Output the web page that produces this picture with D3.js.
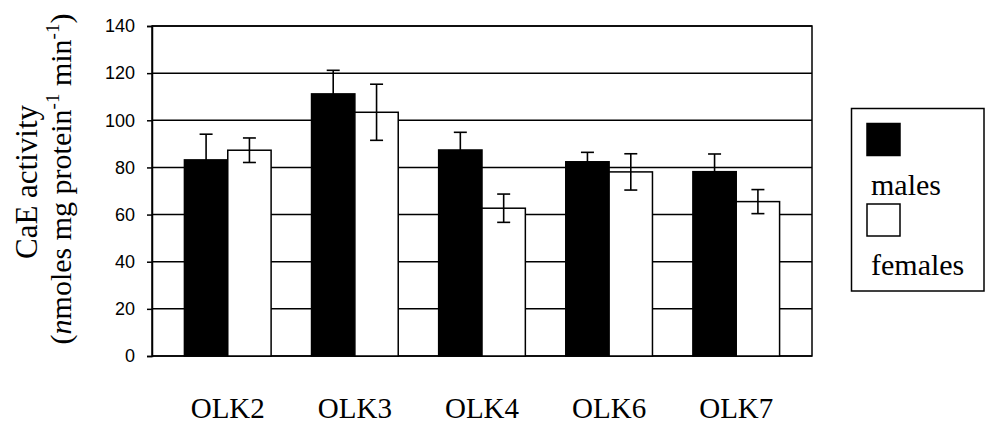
<!DOCTYPE html>
<html><head><meta charset="utf-8">
<script src="https://cdn.jsdelivr.net/npm/d3@7"></script>
<style>body{margin:0;background:#fff}</style>
</head><body>
<script>
const categories = ["OLK2","OLK3","OLK4","OLK6","OLK7"];
const series = ["males","females"];
const malesValues = [83.2, 111.2, 87.4, 82.4, 78.2];
const malesErrors = [10.9, 10.0, 7.5, 4.0, 7.5];
const femalesValues = [87.3, 103.4, 62.7, 78.1, 65.5];
const femalesErrors = [5.2, 11.9, 6.0, 7.7, 5.1];
const yTicks = [0,20,40,60,80,100,120,140];

const W = 985, H = 424;
const svg = d3.select("body").append("svg").attr("width", W).attr("height", H);
const L = 152, R = 812, T = 26, B = 356;
const serif = "Liberation Serif, Times New Roman, serif";

const x0 = d3.scaleBand().domain(categories).range([L, R]).paddingInner(0.318).paddingOuter(0.255);
const x1 = d3.scaleBand().domain(series).range([0, x0.bandwidth()]);
const y = d3.scaleLinear().domain([0, 140]).range([B, T]);

// gridlines
svg.append("g").selectAll("line").data(yTicks).join("line")
  .attr("x1", L).attr("x2", R).attr("y1", d => y(d)).attr("y2", d => y(d))
  .attr("stroke", "#000").attr("stroke-width", 1.5);

// plot border
svg.append("rect").attr("x", L).attr("y", T).attr("width", R - L).attr("height", B - T)
  .attr("fill", "none").attr("stroke", "#000").attr("stroke-width", 1.5);

const data = [];
categories.forEach((c, i) => {
  data.push({c, s: "males", v: malesValues[i], e: malesErrors[i]});
  data.push({c, s: "females", v: femalesValues[i], e: femalesErrors[i]});
});

svg.append("g").selectAll("rect").data(data).join("rect")
  .attr("x", d => x0(d.c) + x1(d.s))
  .attr("y", d => y(d.v))
  .attr("width", x1.bandwidth())
  .attr("height", d => y(0) - y(d.v))
  .attr("fill", d => d.s === "males" ? "#000" : "#fff")
  .attr("stroke", "#000").attr("stroke-width", 1.5);

const eb = svg.append("g").attr("stroke", "#000").attr("stroke-width", 1.6);
data.forEach(d => {
  const cx = x0(d.c) + x1(d.s) + x1.bandwidth() / 2;
  eb.append("line").attr("x1", cx).attr("x2", cx).attr("y1", y(d.v + d.e)).attr("y2", y(d.v - d.e));
  eb.append("line").attr("x1", cx - 6.5).attr("x2", cx + 6.5).attr("y1", y(d.v + d.e)).attr("y2", y(d.v + d.e));
  eb.append("line").attr("x1", cx - 6.5).attr("x2", cx + 6.5).attr("y1", y(d.v - d.e)).attr("y2", y(d.v - d.e));
});

// y axis
const yAxis = d3.axisLeft(y).tickValues(yTicks).tickSize(5).tickPadding(12);
const ga = svg.append("g").attr("transform", `translate(${L},0)`).call(yAxis);
ga.select(".domain").attr("stroke", "#000").attr("stroke-width", 1.5);
ga.selectAll(".tick line").attr("stroke", "#000").attr("stroke-width", 1.5);
ga.selectAll(".tick text").attr("font-family", "Liberation Sans, Arial, sans-serif")
  .attr("font-size", 18).attr("fill", "#000");

// x axis labels
const xAxis = d3.axisBottom(x0).tickSize(0).tickPadding(0);
const gx = svg.append("g").attr("transform", `translate(0,${B})`).call(xAxis);
gx.select(".domain").remove();
gx.selectAll(".tick text").attr("font-family", serif)
  .attr("font-size", 29).attr("fill", "#000").attr("dy", null).attr("y", 62);

// y title
svg.append("text").attr("transform", "translate(37,182) rotate(-90)")
  .attr("text-anchor", "middle").attr("font-family", serif)
  .attr("font-size", 31).attr("fill", "#000").text("CaE activity");
const yt2 = svg.append("text").attr("transform", "translate(71,179) rotate(-90)")
  .attr("text-anchor", "middle").attr("font-family", serif)
  .attr("font-size", 30).attr("fill", "#000");
yt2.append("tspan").text("(");
yt2.append("tspan").attr("font-style", "italic").text("n");
yt2.append("tspan").text("moles mg protein");
yt2.append("tspan").attr("font-size", 19).attr("dy", -12).text("-1");
yt2.append("tspan").attr("dy", 12).text(" min");
yt2.append("tspan").attr("font-size", 19).attr("dy", -12).text("-1");
yt2.append("tspan").attr("dy", 12).text(")");

// legend
const lg = svg.append("g");
lg.append("rect").attr("x", 851.5).attr("y", 108.5).attr("width", 132.5).attr("height", 182.5)
  .attr("fill", "#fff").attr("stroke", "#000").attr("stroke-width", 1.5);
const legendY = [{s: "males", box: 123.5, txt: 195}, {s: "females", box: 204, txt: 275}];
legendY.forEach(l => {
  lg.append("rect").attr("x", 867).attr("y", l.box).attr("width", 33).attr("height", 32)
    .attr("fill", l.s === "males" ? "#000" : "#fff").attr("stroke", "#000").attr("stroke-width", 1.5);
  lg.append("text").attr("x", 871).attr("y", l.txt).attr("font-family", serif)
    .attr("font-size", 30).attr("fill", "#000").text(l.s);
});
</script>
</body></html>
